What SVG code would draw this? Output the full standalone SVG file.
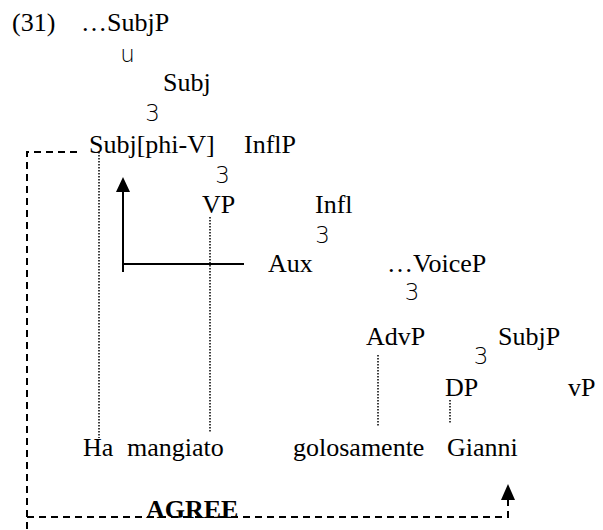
<svg xmlns="http://www.w3.org/2000/svg" width="603" height="530" viewBox="0 0 603 530">
<style>
.t{font-family:"Liberation Serif","Times New Roman",serif;font-size:26px;fill:#000}
.b{font-family:"Liberation Serif","Times New Roman",serif;font-size:26px;font-weight:bold;fill:#000}
.m{font-family:"DejaVu Sans","Liberation Sans",sans-serif;font-weight:200;font-size:23px;fill:#000;text-anchor:middle}
.dot{stroke:#000;stroke-width:1.5;stroke-dasharray:1.5 1.5;fill:none}
.dash{stroke:#000;stroke-width:2;stroke-dasharray:7 5;fill:none}
.solid{stroke:#000;stroke-width:2;fill:none}
</style>
<rect width="603" height="530" fill="#fff"/>
<g id="label-31"><text class="t" x="12" y="31">(31)</text></g>
<g id="n-subjP-top"><text class="t" x="81" y="31">…SubjP</text></g>
<g id="br-u"><text class="m" x="127.5" y="62">u</text></g>
<g id="n-subj"><text class="t" x="163" y="91">Subj</text></g>
<g id="br-3a"><text class="m" x="152.5" y="121">3</text></g>
<g id="n-subj-phi"><text class="t" x="89" y="153">Subj[phi-V]</text></g>
<g id="n-inflP"><text class="t" x="244" y="153">InflP</text></g>
<g id="br-3b"><text class="m" x="222.5" y="183">3</text></g>
<g id="n-vp"><text class="t" x="202" y="213">VP</text></g>
<g id="n-infl"><text class="t" x="315" y="213">Infl</text></g>
<g id="br-3c"><text class="m" x="322.5" y="243">3</text></g>
<g id="n-aux"><text class="t" x="268" y="272">Aux</text></g>
<g id="n-voiceP"><text class="t" x="387" y="272">…VoiceP</text></g>
<g id="br-3d"><text class="m" x="412" y="300">3</text></g>
<g id="n-advP"><text class="t" x="366" y="345">AdvP</text></g>
<g id="n-subjP"><text class="t" x="498" y="345">SubjP</text></g>
<g id="br-3e"><text class="m" x="481" y="364">3</text></g>
<g id="n-dp"><text class="t" x="445" y="396">DP</text></g>
<g id="n-vP"><text class="t" x="568" y="396">vP</text></g>
<g id="w-ha"><text class="t" x="83" y="456">Ha</text></g>
<g id="w-mangiato"><text class="t" x="127" y="456">mangiato</text></g>
<g id="w-golosamente"><text class="t" x="293" y="456">golosamente</text></g>
<g id="w-gianni"><text class="t" x="447" y="456">Gianni</text></g>
<g id="lbl-agree"><text class="b" x="146" y="518">AGREE</text></g>
<g id="connectors">
<line class="dot" x1="99" y1="152" x2="99" y2="438"/>
<line class="dot" x1="210" y1="217" x2="210" y2="433"/>
<line class="dot" x1="378" y1="355" x2="378" y2="426"/>
<line class="dot" x1="450" y1="400" x2="450" y2="423"/>
<path class="solid" d="M244 264 H123 M123 272 V190"/>
<polygon points="123,177 116,192 130,192" fill="#000"/>
<path class="dash" d="M77 152 H27 V530"/>
<path class="dash" d="M27 517 H508 V500"/>
<polygon points="508,484 501,500 515,500" fill="#000"/>
</g>
</svg>
